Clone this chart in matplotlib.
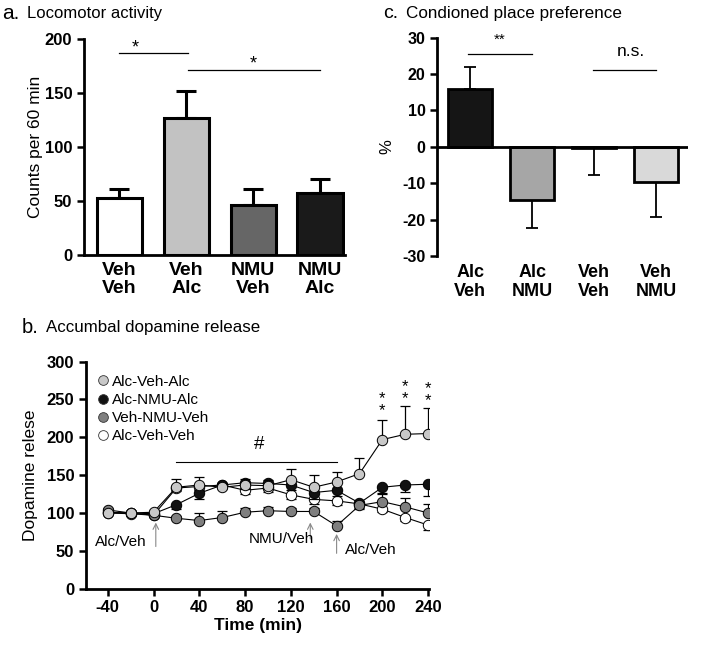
import numpy as np
import matplotlib.pyplot as plt

plt.rcParams['font.family'] = ['Liberation Sans', 'DejaVu Sans']
plt.rcParams['axes.unicode_minus'] = False

# a. locomotor activity
loco_labels = ["Veh\nVeh", "Veh\nAlc", "NMU\nVeh", "NMU\nAlc"]
loco_mean = [52.6, 126.7, 46, 57.8]
loco_err = [8.4, 25.6, 15, 12.7]
loco_colors = ["white", "#c2c2c2", "#666666", "#1a1a1a"]

# c. conditioned place preference
cpp_labels = ["Alc\nVeh", "Alc\nNMU", "Veh\nVeh", "Veh\nNMU"]
cpp_mean = [16.0, -14.7, -0.3, -9.6]
cpp_err = [6.0, 7.6, 7.5, 9.6]
cpp_colors = ["#151515", "#a6a6a6", "white", "#d9d9d9"]

# b. dopamine release
time = [-40, -20, 0, 20, 40, 60, 80, 100, 120, 140, 160, 180, 200, 220, 240]
alc_veh_alc = [100, 100, 101, 134, 137, 134, 137, 136, 144, 134, 141, 152, 197, 204, 205]
alc_veh_alc_err = [2, 2, 3, 11, 10, 5, 8, 8, 14, 16, 13, 21, 26, 37, 34]
alc_nmu_alc = [101, 100, 99, 111, 126, 137, 140, 139, 137, 127, 130, 113, 134, 137, 138]
alc_nmu_alc_err = [2, 2, 2, 6, 8, 5, 8, 7, 7, 8, 8, 8, 7, 9, 16]
veh_nmu_veh = [104, 100, 97, 93, 90, 94, 101, 103, 102, 102, 83, 110, 115, 108, 100]
veh_nmu_veh_err = [2, 2, 2, 3, 10, 8, 5, 5, 4, 4, 7, 5, 10, 12, 12]
alc_veh_veh = [100, 99, 97, 133, 135, 137, 130, 133, 124, 118, 116, 112, 105, 94, 84]
alc_veh_veh_err = [2, 2, 2, 4, 4, 4, 5, 5, 5, 6, 5, 5, 4, 4, 7]

fig = plt.figure(figsize=(7.09, 6.62), dpi=100)

# ---------- panel a
ax1 = fig.add_axes([0.1185, 0.6148, 0.368, 0.3258])
x = np.arange(4)
ax1.bar(x, loco_mean, width=0.68, color=loco_colors, edgecolor="black", linewidth=2.2, zorder=2)
ax1.errorbar(x, loco_mean, yerr=[[0]*4, loco_err], fmt="none", ecolor="black",
             elinewidth=2.2, capsize=7.5, capthick=2.2, zorder=1)
ax1.set_xlim(-0.53, 3.37)
ax1.set_ylim(0, 200)
ax1.set_yticks([0, 50, 100, 150, 200])
ax1.set_xticks(x)
ax1.set_xticklabels(loco_labels, fontsize=14, fontweight="bold", linespacing=1.1)
ax1.tick_params(axis="x", length=0, pad=5)
ax1.tick_params(axis="y", labelsize=12, width=1.8, length=5)
for t in ax1.get_yticklabels():
    t.set_fontweight("bold")
for s in ["top", "right"]:
    ax1.spines[s].set_visible(False)
for s in ["left", "bottom"]:
    ax1.spines[s].set_linewidth(2)
ax1.set_ylabel("Counts per 60 min", fontsize=12.5, labelpad=1)
ax1.plot([0.0, 1.03], [187, 187], color="black", lw=0.9)
ax1.text(0.23, 192, "*", ha="center", va="center", fontsize=13)
ax1.plot([1.03, 2.99], [171.5, 171.5], color="black", lw=0.9)
ax1.text(2.0, 177, "*", ha="center", va="center", fontsize=13)
fig.text(0.003, 0.979, "a.", fontsize=15, va="center")
fig.text(0.038, 0.979, "Locomotor activity", fontsize=12, va="center")

# ---------- panel c
ax3 = fig.add_axes([0.6168, 0.6133, 0.354, 0.3298])
err_lo = [0 if m >= 0 else e for m, e in zip(cpp_mean, cpp_err)]
err_hi = [e if m >= 0 else 0 for m, e in zip(cpp_mean, cpp_err)]
ax3.bar(x, cpp_mean, width=0.7, color=cpp_colors, edgecolor="black", linewidth=2, zorder=2)
ax3.errorbar(x, cpp_mean, yerr=[err_lo, err_hi], fmt="none", ecolor="black",
             elinewidth=1.3, capsize=4.5, capthick=1.3, zorder=1)
ax3.axhline(0, color="black", lw=2, zorder=3)
ax3.set_xlim(-0.53, 3.52)
ax3.set_ylim(-30, 30)
ax3.set_yticks([30, 20, 10, 0, -10, -20, -30])
ax3.set_xticks(x)
ax3.set_xticklabels(cpp_labels, fontsize=13, fontweight="bold", linespacing=1.1)
ax3.tick_params(axis="x", length=0, pad=6)
ax3.tick_params(axis="y", labelsize=11.5, width=1.8, length=5)
for t in ax3.get_yticklabels():
    t.set_fontweight("bold")
for s in ["top", "right", "bottom"]:
    ax3.spines[s].set_visible(False)
ax3.spines["left"].set_linewidth(2)
ax3.set_ylabel("%", fontsize=12, labelpad=6)
ax3.plot([-0.03, 0.99], [25.4, 25.4], color="black", lw=0.9)
ax3.text(0.48, 29.3, "**", ha="center", va="center", fontsize=11)
ax3.plot([1.98, 3.0], [21.1, 21.1], color="black", lw=0.9)
ax3.text(2.6, 26.3, "n.s.", ha="center", va="center", fontsize=12.5)
fig.text(0.541, 0.979, "c.", fontsize=14, va="center")
fig.text(0.573, 0.979, "Condioned place preference", fontsize=12.3, va="center")

# ---------- panel b
ax2 = fig.add_axes([0.1213, 0.1108, 0.4842, 0.3429])
series = [
    (alc_veh_alc, alc_veh_alc_err, "#c8c8c8", "Alc-Veh-Alc", 1, 6),
    (alc_nmu_alc, alc_nmu_alc_err, "#111111", "Alc-NMU-Alc", -1, 4),
    (veh_nmu_veh, veh_nmu_veh_err, "#7f7f7f", "Veh-NMU-Veh", 1, 5),
    (alc_veh_veh, alc_veh_veh_err, "white", "Alc-Veh-Veh", -1, 3),
]
handles = []
for vals, errs, col, lab, direction, z in series:
    if direction > 0:
        yerr = [[0]*len(errs), errs]
    else:
        yerr = [errs, [0]*len(errs)]
    ax2.errorbar(time, vals, yerr=yerr, fmt="none", ecolor="black", elinewidth=0.9,
                 capsize=3.5, capthick=0.9, zorder=z - 0.5)
    h, = ax2.plot(time, vals, "-o", color="black", lw=0.8, markersize=7.5,
                  markerfacecolor=col, markeredgecolor="black", markeredgewidth=0.7,
                  zorder=z, label=lab)
    handles.append(h)

ax2.set_xlim(-59, 241)
ax2.set_ylim(0, 300)
ax2.set_xticks(np.arange(-40, 241, 40))
ax2.set_yticks(np.arange(0, 301, 50))
ax2.tick_params(labelsize=12, width=1.8, length=5)
for t in ax2.get_xticklabels() + ax2.get_yticklabels():
    t.set_fontweight("bold")
for s in ["top", "right"]:
    ax2.spines[s].set_visible(False)
for s in ["left", "bottom"]:
    ax2.spines[s].set_linewidth(2)
ax2.set_xlabel("Time (min)", fontsize=12.5, fontweight="bold", labelpad=2)
ax2.set_ylabel("Dopamine relese", fontsize=12.5, labelpad=6)

leg = ax2.legend(handles=[plt.Line2D([], [], ls="none", marker="o", markersize=7,
                                     markerfacecolor=h.get_markerfacecolor(),
                                     markeredgecolor="#333333", markeredgewidth=0.6)
                          for h in handles],
                 labels=[s[3] for s in series], loc="upper left",
                 bbox_to_anchor=(0.0, 0.99), frameon=False, fontsize=11,
                 handlelength=0.8, handletextpad=0.2, labelspacing=0.28, borderaxespad=0.3)

# annotations
ax2.plot([20, 160], [168, 168], color="black", lw=0.8)
ax2.text(92, 191, "#", ha="center", va="center", fontsize=13.5)
arrow = dict(arrowstyle="->", color="#888888", lw=0.8)
ax2.annotate("", xy=(2, 91), xytext=(2, 52), arrowprops=arrow)
ax2.text(-6, 61, "Alc/Veh", ha="right", va="center", fontsize=11)
ax2.annotate("", xy=(137, 91), xytext=(137, 62), arrowprops=arrow)
ax2.text(140, 66, "NMU/Veh", ha="right", va="center", fontsize=11)
ax2.annotate("", xy=(160, 76), xytext=(160, 43), arrowprops=arrow)
ax2.text(167, 51, "Alc/Veh", ha="left", va="center", fontsize=11)
for tx, yc in [(200, 243), (220, 259.5), (240, 256.5)]:
    ax2.text(tx, yc, "*\n*", ha="center", va="center", fontsize=12, linespacing=0.75)

fig.text(0.03, 0.505, "b.", fontsize=14.5, va="center")
fig.text(0.065, 0.505, "Accumbal dopamine release", fontsize=12.2, va="center")

fig.savefig("out.png", dpi=100)
